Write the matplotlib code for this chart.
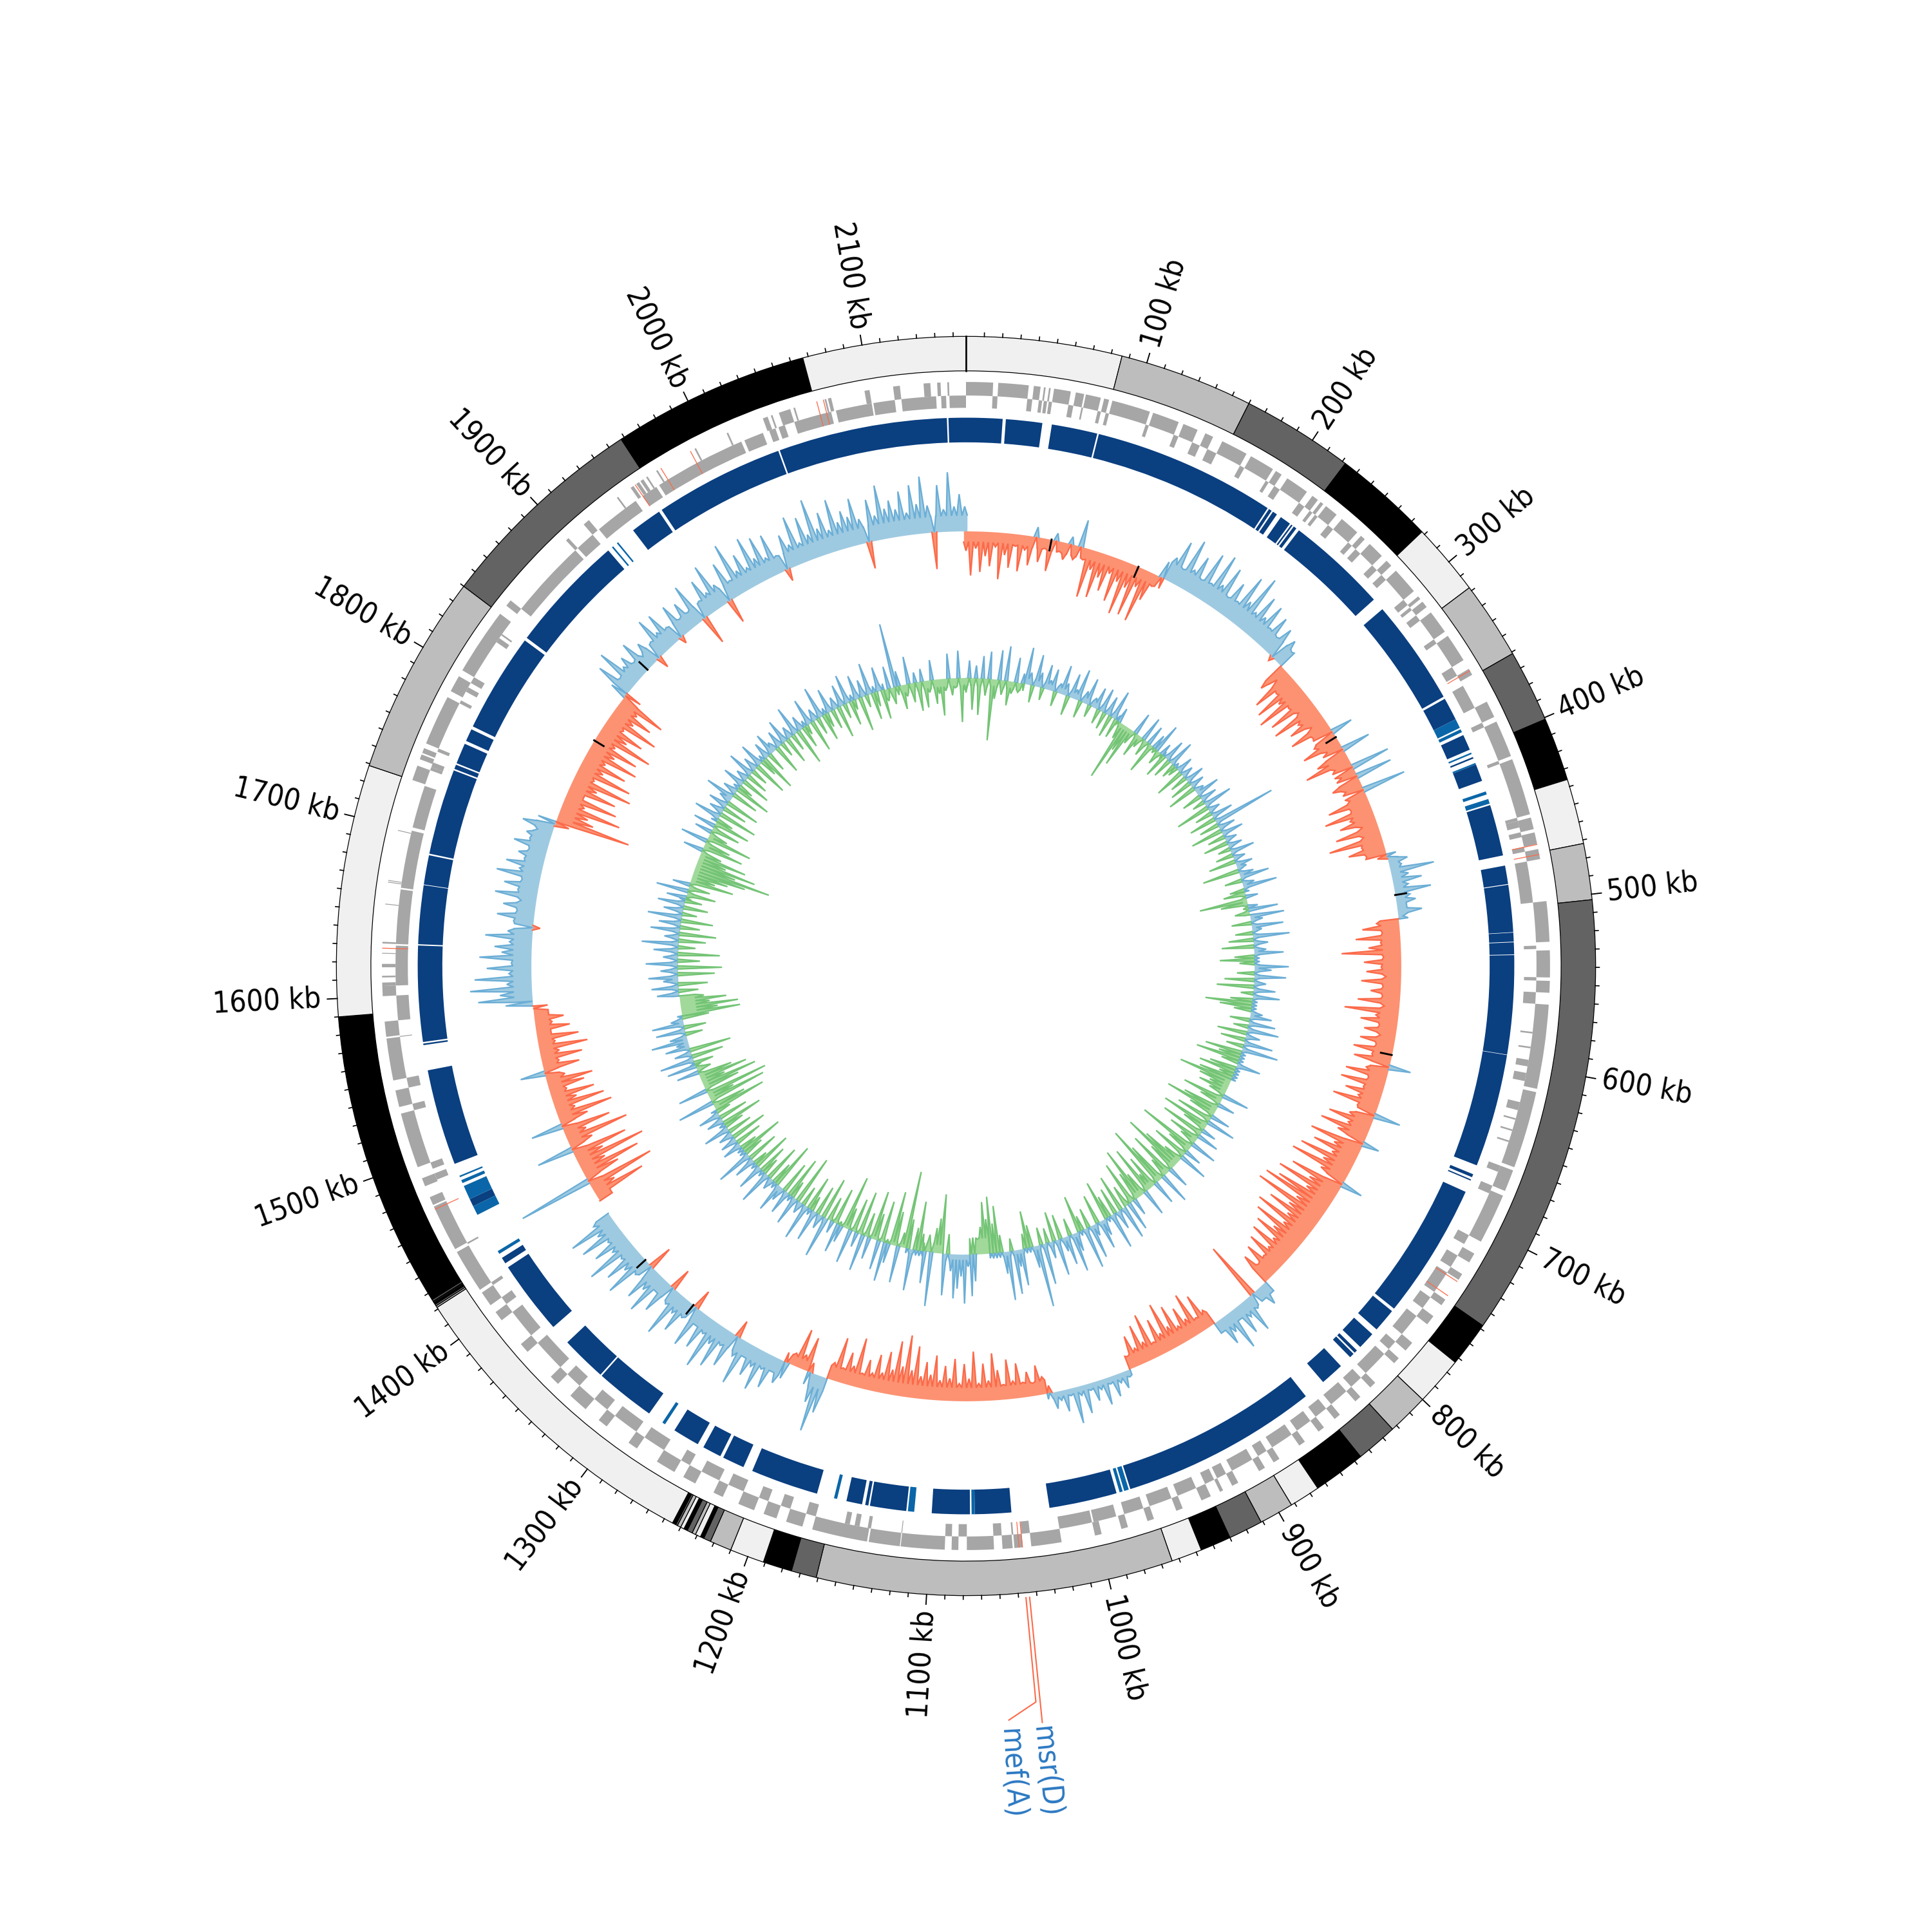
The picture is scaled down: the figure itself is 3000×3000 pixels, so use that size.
import numpy as np
import matplotlib
matplotlib.use("Agg")
import matplotlib.pyplot as plt
from matplotlib import font_manager as fm

GENOME_KB = 2157
tick_step_minor = 10
contig_edges = [0,86,160,222,278,318,361,401,436,472,503,748,773,800,823,846,875,892,911,930,947,964,1161,1175,1191,1210,1222,1226,1228,1231,1233,1236,1238,1240,1242,1243,1245,1421,1422,1423,1424,1424.5,1425,1426,1590,1729,1840,1958,2067,2157]
contig_shades = ["#f0f0f0","#bdbdbd","#636363","#000000"]

gene_outer = [(0,16),(19,37),(40,44),(46,47),(49,50),(52,62),(65,70),(71,80),(82,85),(87,110),(112,128),(131,140),(145,150),(156,172),(175,190),(192,196),(200,214),(218,222),(224,226),(228,236),(240,252),(255,258),(262,272),(276,280),(284,300),(304,306),(308,312),(316,330),(333,350),(356,360),
(378,388),(391,413),(415,449),(451,458),(460,467),(470,476),(501,525),(530,546),(548,555),(562,612),(614,660),(662,675),(678,708),
(716,722),(730,734),(748,752),(760,766),(780,786),(792,796),(812,816),(824,828),(840,844),(852,856),(866,870),(884,888),(894,898),(912,916),(922,924),(930,936),(948,952),(966,970),(982,986),(998,1002),
(1022,1040),(1045,1050),(1051,1057),(1062,1078),(1083,1087),(1091,1117),(1117.5,1136),(1137,1170),
(1176,1186),(1192,1200),(1206,1216),(1226,1232),(1244,1252),(1258,1270),(1284,1290),(1306,1312),(1322,1334),(1344,1350),(1370,1376),(1394,1400),(1405,1414),
(1416,1442),(1444,1472),(1473,1478),(1485,1490),(1497,1530),(1534,1544),(1550,1575),(1576,1585),(1600,1606),(1606,1608),(1611,1612),(1617,1619),(1625,1625.5),(1631,1632),(1654,1654.5),(1667,1667.5),(1668,1668.5),(1698,1698.5),
(1729,1738),(1742,1745),(1746,1749),(1752,1782),(1786,1796),(1800,1840),(1846,1850),
(1898,1900),(1912,1916),(1937,1938),(1947,1949),(1951,1953),(1954,1956),(1958,1959),(1965,1966),(1991,1992),(2012,2013),(2035,2038),(2040,2041),(2045,2052),(2054,2055),(2073,2074),(2075,2077),(2097,2100),(2114,2118),(2132,2136),(2140,2142),(2146,2147)]
gene_inner = [(16,19),(37,40),(44,46),(47,49),(50,52),(62,65),(70,71),(80,82),(85,87),(110,112),(128,131),(140,145),(150,156),(172,175),(190,192),(196,200),(214,218),(222,224),(226,228),(236,240),(252,255),(258,262),(272,276),(280,284),(300,304),(306,308),(312,316),(330,333),(350,356),
(363,378),(388,391),(413,415),(449,451),(451,455),(458,461),(467,470),(476,501),(527,529),(546,548),(555,562),(579,580),(588,589),(596,600),(604,609),(622,627),(632,633),(639,640),(646,647),(662,666),(675,680),(708,714),
(722,730),(734,748),(752,760),(766,780),(786,792),(796,812),(816,824),(828,840),(844,852),(856,866),(870,884),(888,894),(898,912),(916,922),(924,930),(936,948),(952,966),(970,982),(987,1001),
(1002,1022),(1040,1045),(1050,1051),(1057,1062),(1078,1083),(1087,1091),(1117,1117.5),(1136,1138),(1143,1146),(1149,1152),
(1170,1176),(1186,1192),(1200,1206),(1216,1226),(1232,1244),(1252,1258),(1270,1284),(1290,1306),(1312,1322),(1334,1344),(1350,1370),(1376,1394),(1400,1405),(1414,1416),
(1443,1444),(1486,1490),(1493,1497),(1530,1534),(1544,1550),(1575,1575.5),(1585,1600),(1606,1630),(1631,1664),(1665,1700),(1702,1728),
(1738,1740),(1740,1743),(1750,1752),(1782,1784),(1790,1793),(1796,1800),(1825,1828),(1830,1831),
(1850,1898),(1900,1912),(1917,1945),(1950,1960),(1962,2018),(2020,2032),(2036,2040),(2042,2046),(2052,2075),(2078,2100),(2101,2114),(2118,2139),(2142,2145),(2147,2157)]
amr_gene_kb = [357, 467, 473, 735, 745, 1045, 1047, 1470, 1628, 1950, 1968, 1988, 2068, 2072]

dark_blocks = [(0,23),(25,48),(54,83),(84,200),(201,203),(204,207),(210,217),(218,219),(220,222),(224,288),(296,363),(364.5,379),(390,400),(405,406),(410,421),(437,469.5),(476,487.7),(488.2,518),(518.3,524),(524.4,532),(532.4,595),(595.3,667),(673,675),(676.5,677.3),(685,771),(773,788),(792,803),(806,808),(809,812),(820,835),(849,974),(983,1026),(1050,1073),(1076,1100),(1116,1139),(1140,1142),(1144,1154),(1173,1216),(1222,1236),(1238,1250),(1254,1271),(1290,1328),(1329,1358),(1371,1418),(1421,1425),(1462,1467),(1491,1552),(1568,1569),(1570,1630.6),(1631.4,1668.6),(1669,1687.6),(1688.6,1743),(1744,1746.8),(1747.8,1761),(1763,1771),(1773,1836),(1838,1913),(1933,1953),(1955,2037),(2038,2145),(2146,2157)]
light_blocks = [(379,385),(386,388),(402,403),(409,410),(428,430),(433,436),(975,978),(979,981),(1073,1075),(1111,1115),(1160,1162),(1278,1280),(1428,1430),(1456,1462),(1467,1476),(1478,1480),(1482,1483),(1916,1917),(1920,1921)]

skew_rows = [
[-16,-36,-14,-33,-20,-28,-12,-38,-18,-28,-10,-30,-12,-24,8,-20,-8,-26,6,-8,-14,6,-12,22,-10],
[-40,-16,-38,-20,-30,-14,-36,-18,-44,-20,-42,-16,-44,-24,-10,14,20,36,14,42,18,32,14,40,16],
[44,20,38,14,30,16,42,22,48,18,36,20,34,16,30,14,26,-4,22,14,-24,-10,-36,-18,-40],
[-22,-44,-18,-38,-14,-40,-20,-30,-12,-34,-16,18,-20,-32,-12,24,-26,-38,-14,32,-12,30,-24,-14,36],
[-14,-34,-16,-40,-20,-30,-12,-36,-14,-44,-18,-30,-16,-8,16,10,36,14,24,12,30,12,16,8,20],
[4,-18,-30,-14,-36,-16,-26,-48,-14,-30,-16,-28,-12,-32,-14,-24,-14,-34,-12,-44,-18,-30,-14,-26,-12],
[-28,-14,-32,-16,-30,18,-18,-34,-14,-36,-16,-30,-18,-38,-16,22,-20,-36,-18,-40,-24,14,-44,-22,-38],
[-20,-46,-24,-50,-22,18,-44,-26,-52,-24,-48,-58,-26,-60,-28,-44,-24,-50,-22,-46,-26,-40,-20,-38,-18],
[-34,-16,-30,-14,-26,10,18,10,-48,12,30,14,26,10,34,16,24,10,-14,-30,-12,-36,-16,-28,-14],
[-34,-18,-40,-16,-30,-12,-38,-16,-32,-14,-26,-10,6,14,8,18,6,22,8,16,6,24,8,30,6],
[18,8,14,-6,-14,-24,-10,-20,-12,-28,-14,-32,-12,-24,-38,-16,-30,-14,-40,-18,-30,-14,-34,-18,-28],
[-16,-36,-20,-30,-18,-42,-22,-50,-24,-44,-20,-34,-16,-30,-14,-24,-12,-40,-16,-26,-12,-36,-14,30,47],
[24,-8,-28,-12,-32,-10,14,20,12,28,14,34,16,26,12,38,16,-14,30,14,36,18,42,14,30],
[12,34,-16,14,30,16,40,14,-18,28,12,36,18,30,-20,14,38,18,32,14,42,16,30,14,36],
[18,40,16,0,0,0,-12,-44,-20,-56,61,-30,-50,-22,-58,-24,-46,30,-20,-52,-18,-40,26,-24,-46],
[-16,-42,-20,-36,-14,-30,-38,-16,20,-30,-14,-34,-16,-40,-14,-34,-12,-28,-14,-24,-12,0,22,44,26],
[50,20,46,18,36,16,42,24,30,18,38,20,-6,16,30,14,26,12,34,16,28,14,36,18,30],
[16,22,14,28,16,20,12,26,-12,-62,-30,-24,-50,-18,-44,-14,-40,-22,-50,-16,-46,-20,-38,-18,-44],
[-22,-40,-18,-48,-24,-36,-16,-44,-20,-34,-18,-40,14,30,12,36,16,22,12,28,10,20,-10,14,32],
[16,30,14,-6,28,12,24,12,34,-24,14,30,16,38,18,-20,32,14,44,18,30,16,40,20,36],
[16,34,14,-10,28,18,40,16,36,20,48,22,34,18,42,22,30,24,38,20,-22,34,20,44,24],
[30,22,36,18,40,24,46,22,-30,38,18,48,20,30,20],
]
content_rows = [
[-12,14,-26,10,-30,18,-14,22,-50,-16,24,-12,28,-20,-10,20,-8,8,30,10,-14,26,12,-10,20],
[8,18,-12,8,24,10,-16,20,8,26,-14,10,22,-10,8,18,-12,20,-14,16,-18,24,-16,12,-14],
[-49,-22,-34,-12,18,-20,-10,20,-14,16,-26,12,24,-12,10,-20,18,-16,22,-12,-8,14,-24,10,-14],
[16,-18,12,-24,8,20,-16,14,-10,24,-28,10,-14,18,-22,52,-16,14,-26,18,-14,10,-20,12,-10],
[20,-14,10,-22,14,8,-30,12,24,-14,10,28,-12,-18,10,-39,-22,8,24,-12,28,10,-16,26,8],
[-14,30,-20,12,-26,10,24,-16,-28,-12,28,14,-14,26,-24,10,-30,18,-10,22,-18,-38,-26,-14,10],
[18,-16,22,-12,26,-24,12,-20,24,-14,30,-30,-18,-36,-14,20,-22,-30,-12,-28,-44,-26,-16,-24,-14],
[22,-34,-18,14,-30,-44,-22,16,-30,24,-40,-20,12,-36,18,-26,-14,22,-48,-20,14,-30,24,-16,-34],
[-50,-24,18,-38,-16,26,-34,-52,20,-28,-14,-40,22,-20,-44,-24,14,-36,24,-18,28,-30,16,-22,30],
[-18,-32,14,24,-24,10,28,-16,34,-12,-30,16,32,-14,24,12,-20,30,-24,14,-12,34,-14,51,18],
[-18,-30,-12,30,14,36,-10,40,18,-14,-38,-24,-46,-28,-42,-22,-12,22,34,10,40,18,28,36,14],
[-16,34,-48,-28,-20,44,-14,26,-14,-40,-18,34,-24,-63,-12,30,-28,-44,16,32,-34,24,-22,-40,18],
[-20,30,-36,12,-28,28,-18,-44,14,24,-30,10,-20,34,-34,12,-24,26,-12,-28,30,-16,10,-40,24],
[-14,-34,20,-26,12,24,-38,-18,10,-30,28,-14,-24,22,-32,-12,18,-26,30,-16,-36,-14,16,-22,14],
[-30,12,-20,22,-16,-34,14,-24,18,-12,-44,-28,30,-48,-22,-52,24,-30,-46,-20,-40,-28,18,-12,24],
[-16,28,-26,14,-34,20,10,30,14,-14,24,-18,26,10,-22,-48,-30,-47,-24,-38,-20,18,-16,22,-24],
[12,24,-30,14,-36,26,-18,12,-34,20,-14,30,-22,12,-30,24,-16,18,-26,28,-12,16,-20,22,-14],
[16,-24,26,-18,14,-36,-20,-30,-44,-64,-34,-50,-24,-40,-18,16,-34,-22,22,-38,-16,14,-24,18,-30],
[-14,22,-32,12,-20,16,-28,10,24,-22,12,-30,-12,18,-24,10,-18,22,-14,12,-28,20,-14,-30,14],
[-16,18,8,-24,14,-12,20,-22,10,-14,24,-30,12,-18,-8,22,-26,10,-14,26,-22,-12,20,-16,10],
[-26,18,-12,24,-20,-8,20,-28,14,-10,26,-22,-12,20,-24,-10,18,-14,52,12,-20,-10,22,-16,8],
[-24,10,-22,-10,16,-20,-12,-30,-10,20,-14,-8,22,-36,-10],
]
sample_step_kb = 4
skew_band_edges = [0,161,279,450,503,817,872,945,1014,1190,1205,1225,1412,1423,1587,1590,1734,1849,2157]
skew_band = [-9,15,-17,8,-15,10,-11,5,-11,11,-8,12,0,-12,0,15,-14,13]
content_band_edges = [0,72,190,260,450,480,560,677,880,1050,1075,1105,1130,1150,1250,1440,1500,1560,1582,1700,1800,2060,2157]
content_band = [-6,5,-4,4,-4,4,4,-5,4,-13,5,-7,4,-3,5,-5,4,-13,5,-5,5,-7]
skew_marks_kb = [68, 140, 349, 483, 610, 1311, 1363, 1805, 1875]
skew_mark_len = 9
resistance_names = ["msr(D)", "mef(A)"]
resistance_kb = [1044, 1046]
resistance_label_kb = [1044.5, 1059]

R_OUT, R_IN = 511, 483
R_FWD = (463, 474)
R_REV = (453, 463)
R_BLOCK = (425, 445)
R_SKEW, R_GC = 353, 234

label_kw = {"family": "Roboto", "fontsize": 11.0}
if any(f.name == "DejaVu Sans" and str(f.stretch) in ("condensed", "75", "semi-condensed") for f in fm.fontManager.ttflist):
    label_kw = {"family": "DejaVu Sans", "stretch": "condensed", "fontsize": 11.0}

def th(kb):
    return np.asarray(kb, dtype=float) / GENOME_KB * 2 * np.pi

fig = plt.figure(figsize=(10, 10), dpi=300)
ax = fig.add_axes([0, 0, 1, 1], polar=True)
ax.set_theta_zero_location("N")
ax.set_theta_direction(-1)
ax.set_rlim(0, 784)
ax.axis("off")

def sector(a, b, r0, r1, **kw):
    ax.bar(th((a + b) / 2), r1 - r0, width=th(b - a), bottom=r0, align="center", **kw)

for i in range(len(contig_edges) - 1):
    sector(contig_edges[i], contig_edges[i + 1], R_IN, R_OUT,
           color=contig_shades[i % 4], edgecolor="black", linewidth=0.3)
ax.plot([0, 0], [R_IN, R_OUT], color="black", lw=0.6)

for kb in range(tick_step_minor, GENOME_KB, tick_step_minor):
    major = kb % 100 == 0
    ax.plot([th(kb)] * 2, [R_OUT, R_OUT + (8 if major else 3)], color="black", lw=0.45 if major else 0.4, clip_on=False)
    if major:
        deg = kb / GENOME_KB * 360
        right = deg < 180
        ax.text(th(kb), 524, f"{kb} kb",
                rotation=(90 - deg) if right else (270 - deg),
                ha="left" if right else "right", va="center",
                rotation_mode="anchor", clip_on=False, **label_kw)

for a, b in gene_outer:
    sector(a, b, R_FWD[0], R_FWD[1], color="#a6a6a6", edgecolor="none")
for a, b in gene_inner:
    sector(a, b, R_REV[0], R_REV[1], color="#a6a6a6", edgecolor="none")
for kb in amr_gene_kb:
    sector(kb, kb + 0.5, R_REV[0], R_FWD[1], color="#fb6a4a", edgecolor="none")

for a, b in dark_blocks:
    sector(a, b, R_BLOCK[0], R_BLOCK[1], color="#0a3f80", edgecolor="none")
for a, b in light_blocks:
    sector(a, b, R_BLOCK[0], R_BLOCK[1], color="#0a66a8", edgecolor="none")

def band_at(kb, edges, vals):
    idx = np.clip(np.searchsorted(edges, kb, side="right") - 1, 0, len(vals) - 1)
    return np.array(vals, dtype=float)[idx]

def signal(rows, band_edges, band_vals, base, pos_line, pos_fill, neg_line, neg_fill, half=1.9):
    """Each sample is a spike rising from the regional band level."""
    v = np.array([x for row in rows for x in row], dtype=float)
    peak_kb = np.arange(len(v)) * sample_step_kb
    band = band_at(peak_kb, band_edges, band_vals)
    kb = np.ravel(np.column_stack([peak_kb - half, peak_kb, peak_kb + half]))
    y = np.ravel(np.column_stack([band, v, band]))
    t = th(kb)
    pos = np.maximum(y, 0)
    neg = np.minimum(y, 0)
    ax.fill_between(t, base, base + pos, color=pos_fill, linewidth=0)
    ax.fill_between(t, base, base + neg, color=neg_fill, linewidth=0)
    for arr, col in ((pos, pos_line), (neg, neg_line)):
        on = arr != 0
        show = on | np.r_[on[1:], False] | np.r_[False, on[:-1]]
        ax.plot(t, np.ma.masked_where(~show, base + arr), color=col, lw=0.55, solid_joinstyle="miter")

signal(skew_rows, skew_band_edges, skew_band, R_SKEW, "#6baed6", "#9ecae1", "#fb6a4a", "#fc9272")
signal(content_rows, content_band_edges, content_band, R_GC, "#6baed6", "#9ecae1", "#74c476", "#a1d99b")

for kb in skew_marks_kb:
    direction = np.sign(band_at(np.array([kb]), skew_band_edges, skew_band))[0]
    ax.plot([th(kb)] * 2, [R_SKEW, R_SKEW + direction * skew_mark_len], color="black", lw=0.7)

ax.plot(th([resistance_kb[0], resistance_kb[0]]), [515, 617], color="#fb6a4a", lw=0.5, clip_on=False)
ax.plot(th([resistance_kb[1], resistance_kb[1], resistance_label_kb[1]]), [515, 600, 613], color="#fb6a4a", lw=0.5, clip_on=False)
for name, kb in zip(resistance_names, resistance_label_kb):
    deg = kb / GENOME_KB * 360
    ax.text(th(kb), 620, name, color="#2b78c2",
            rotation=90 - deg, ha="left", va="center", rotation_mode="anchor", clip_on=False, **label_kw)

fig.savefig("out.png", dpi=300, facecolor="white")
